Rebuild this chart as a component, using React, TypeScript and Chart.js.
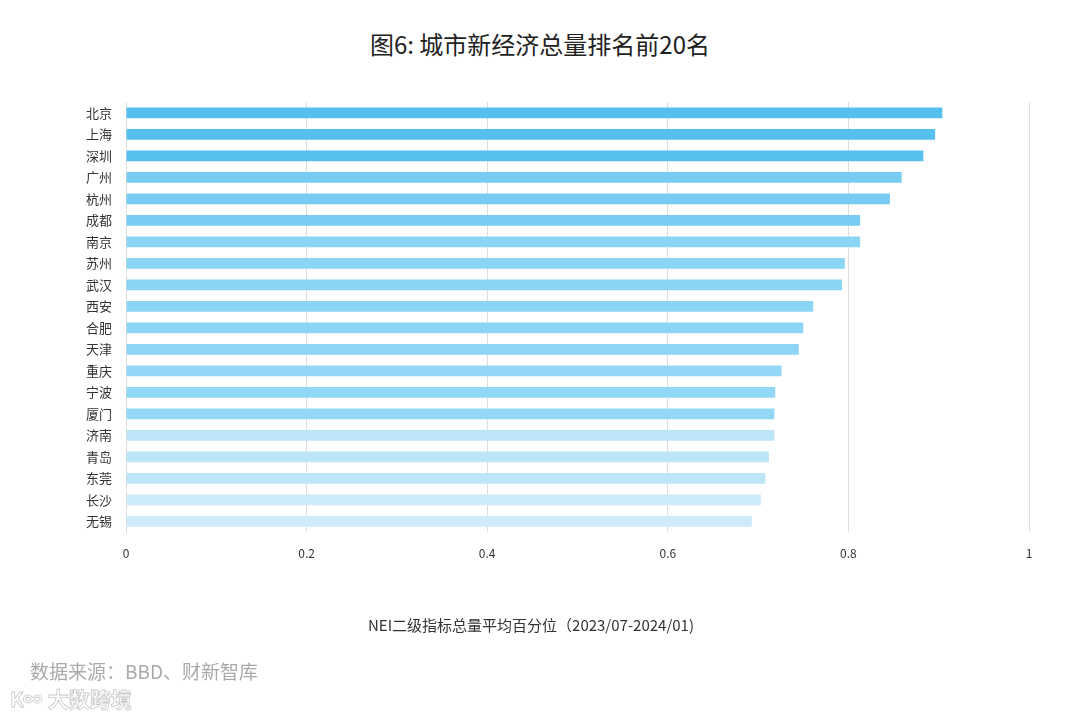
import React, { useEffect, useRef } from "react";
import { Chart, registerables } from "chart.js";

Chart.register(...registerables);

const cities = ["北京", "上海", "深圳", "广州", "杭州", "成都", "南京", "苏州", "武汉", "西安", "合肥", "天津", "重庆", "宁波", "厦门", "济南", "青岛", "东莞", "长沙", "无锡"];
const values = [0.904, 0.896, 0.883, 0.859, 0.846, 0.813, 0.813, 0.796, 0.793, 0.761, 0.750, 0.745, 0.726, 0.719, 0.718, 0.718, 0.712, 0.708, 0.703, 0.693];
const barColors = [
  "#55BFEE", "#55BFEE", "#55BFEE",
  "#78CCF2", "#78CCF2", "#7ACDF2",
  "#8AD4F4", "#8AD4F4", "#8AD4F4", "#8DD5F4", "#8DD5F4", "#8DD5F4", "#92D7F5", "#92D7F5", "#92D7F5",
  "#BCE5F8", "#BCE5F8", "#BEE6F8",
  "#CDEBF9", "#CDEBF9",
];
const xTicks = [0, 0.2, 0.4, 0.6, 0.8, 1];
const titleText = "图6: 城市新经济总量排名前20名";
const xAxisTitle = "NEI二级指标总量平均百分位（2023/07-2024/01)";
const sourceText = "数据来源：BBD、财新智库";
const watermark = "大数跨境";

const FONT = "'Noto Sans CJK SC', 'Noto Sans', sans-serif";

export default function App() {
  const ref = useRef<HTMLCanvasElement | null>(null);

  useEffect(() => {
    if (!ref.current) return;
    const chart = new Chart(ref.current, {
      type: "bar",
      data: {
        labels: cities,
        datasets: [
          {
            data: values,
            backgroundColor: barColors,
            borderWidth: 0,
            barPercentage: 0.5,
            categoryPercentage: 1,
          },
        ],
      },
      options: {
        indexAxis: "y",
        animation: false,
        responsive: false,
        maintainAspectRatio: false,
        layout: { padding: { top: 102, right: 51, bottom: 87, left: 0 } },
        plugins: {
          legend: { display: false },
          tooltip: { enabled: false },
          title: { display: false },
        },
        scales: {
          x: {
            type: "linear",
            min: 0,
            max: 1,
            afterBuildTicks: (scale: any) => {
              scale.ticks = xTicks.map((v) => ({ value: v }));
            },
            afterFit: (scale: any) => {
              scale.height = 101;
            },
            grid: { color: "#dddddd", lineWidth: 1, drawTicks: false },
            border: { display: false },
            ticks: {
              padding: 14,
              color: "#333333",
              font: { family: FONT, size: 12 },
              callback: (v: any) => String(v),
            },
            title: { display: false },
          },
          y: {
            type: "category",
            afterFit: (scale: any) => {
              scale.width = 126;
            },
            grid: { display: false, drawTicks: false },
            border: { display: true, color: "#dddddd", width: 1 },
            ticks: {
              padding: 14,
              color: "#333333",
              font: { family: FONT, size: 13 },
            },
          },
        },
      },
    });
    return () => chart.destroy();
  }, []);

  return (
    <div style={{ position: "absolute", left: 0, top: 0, width: 1080, height: 720, background: "#ffffff", overflow: "hidden" }}>
      <div
        style={{
          position: "absolute",
          left: 0,
          top: 26,
          width: 1080,
          textAlign: "center",
          fontFamily: FONT,
          fontSize: 24,
          color: "#222222",
          lineHeight: "36px",
        }}
      >
        {titleText}
      </div>
      <canvas ref={ref} width={1080} height={720} style={{ position: "absolute", left: 0, top: 0 }} />
      <div
        style={{
          position: "absolute",
          left: 231,
          top: 613,
          width: 600,
          textAlign: "center",
          fontFamily: FONT,
          fontSize: 15,
          color: "#333333",
          lineHeight: "24px",
          whiteSpace: "nowrap",
        }}
      >
        {xAxisTitle}
      </div>
      <div
        style={{
          position: "absolute",
          left: 30,
          top: 657,
          fontFamily: FONT,
          fontSize: 19,
          color: "#aaaaaa",
          lineHeight: "28px",
          whiteSpace: "nowrap",
        }}
      >
        {sourceText}
      </div>
      <div
        style={{
          position: "absolute",
          left: 10,
          top: 683,
          fontFamily: FONT,
          fontSize: 21,
          color: "#ffffff",
          WebkitTextStroke: "0.8px #c8c8c8",
          lineHeight: "30px",
          whiteSpace: "nowrap",
          fontWeight: 700,
        }}
      >
        <span style={{ fontSize: 20, letterSpacing: -1, marginRight: 6 }}>K∞</span>
        {watermark}
      </div>
    </div>
  );
}
